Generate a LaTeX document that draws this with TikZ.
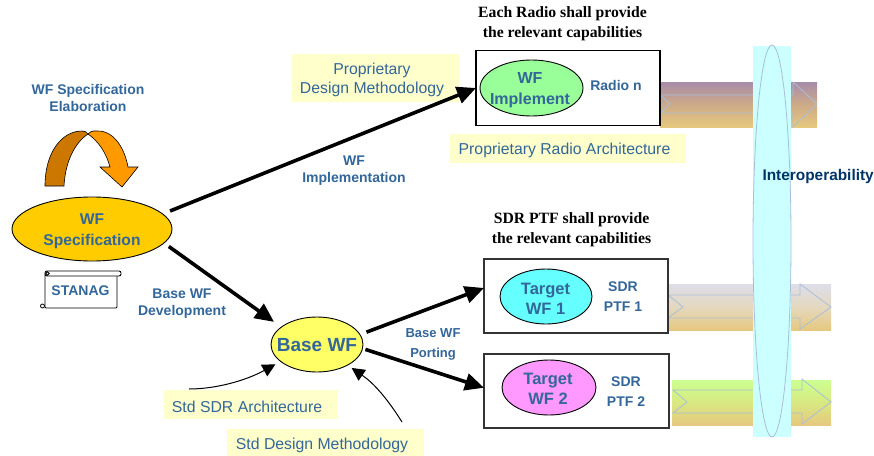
\documentclass[tikz,border=0pt]{standalone}
\usepackage{fontspec}
\setmainfont{Liberation Sans}
\newfontfamily\serifb{Liberation Serif}[Scale=1]
\usetikzlibrary{arrows.meta,shapes.geometric}
\definecolor{txtblue}{HTML}{336699}
\definecolor{darkblue}{HTML}{003366}
\definecolor{paleyellow}{HTML}{FFFFCC}
\definecolor{palecyan}{HTML}{CCFFFF}
\definecolor{tan}{HTML}{E6C87F}
\definecolor{arrowline}{HTML}{A9BFD9}
\newcommand\nudged[2]{\raisebox{-2pt}[\height][\depth]{#2}\hspace*{#1pt}}
\tikzset{
  every node/.style={inner sep=0pt,outer sep=0pt,align=center},
  lbl/.style 2 args={font=\fontsize{#1}{#2}\selectfont\bfseries,text=txtblue},
  note/.style={fill=paleyellow,font=\fontsize{15.8}{18.5}\selectfont,text=txtblue},
  head/.style={font=\fontsize{15.7}{20}\selectfont\serifb\bfseries,text=black},
  oval/.style={ellipse,draw=black,line width=0.9pt},
  ptfbox/.style={draw=black!80,line width=1.2pt,fill=white,rectangle},
  big/.style={line width=3.6pt,-{Triangle[length=19pt,width=17pt]}},
  thin/.style={line width=1pt,-{Triangle[length=13pt,width=13pt]}},
  flow/.style={draw=arrowline,line width=0.8pt},
}
\begin{document}
\begin{tikzpicture}[x=1pt,y=-1pt]
\useasboundingbox (0,0) rectangle (874,455);
\clip (0,0) rectangle (874,455);
% gradient bars
\shade[bottom color=tan,top color={rgb,255:red,168;green,140;blue,170},middle color={rgb,255:red,205;green,170;blue,135}] (660,82) rectangle (817,127);
\shade[bottom color=tan,top color={rgb,255:red,222;green,222;blue,234},middle color={rgb,255:red,228;green,216;blue,190}] (668,284) rectangle (831,330);
\shade[bottom color=tan,top color={rgb,255:red,204;green,255;blue,145},middle color={rgb,255:red,216;green,232;blue,130}] (672,380) rectangle (831,425);
% arrows on bars
\draw[flow] (660,95) -- (793,95) -- (793,82) -- (817,104) -- (793,127) -- (793,113) -- (660,113) -- (670,104) -- cycle;
\draw[flow] (668,295) -- (800,295) -- (800,284) -- (831,307) -- (800,329) -- (800,318) -- (668,318) -- (683,307) -- cycle;
\draw[flow] (673,390) -- (802,390) -- (802,379) -- (831,402) -- (802,424) -- (802,413) -- (673,413) -- (687,402) -- cycle;
% interoperability band
\fill[palecyan] (753,46) rectangle (791,437);
\draw[arrowline,line width=0.8pt] (772,241) ellipse [x radius=19,y radius=196];
\node[font=\fontsize{15.4}{16}\selectfont\bfseries,text=darkblue,anchor=west] (interop) at (762.5,177) {Interoperability};
% notes
\node[note,minimum width=167pt,minimum height=48pt] (propdm) at (375.5,78) {\nudged{7}{Proprietary}\\\nudged{7}{Design Methodology}};
\node[note,minimum width=236pt,minimum height=29pt] (propra) at (568,148.5) {\nudged{7}{Proprietary Radio Architecture}};
\node[note,minimum width=174pt,minimum height=29pt] (stdsdr) at (251,404.5) {\nudged{8}{Std SDR Architecture}};
\node[note,minimum width=197pt,minimum height=28pt] (stddm) at (325.5,443) {\nudged{7}{Std Design Methodology}};
% boxes
\node[ptfbox,draw=black,minimum width=184pt,minimum height=75pt] (radio) at (568,88) {};
\node[ptfbox,minimum width=184pt,minimum height=74pt] (ptf1) at (576,296) {};
\node[ptfbox,minimum width=185pt,minimum height=74pt] (ptf2) at (576.5,391) {};
% ovals
\node[oval,fill={rgb,255:red,153;green,255;blue,153},minimum width=103pt,minimum height=56pt] (impl) at (531.5,88) {};
\node[oval,fill={rgb,255:red,102;green,255;blue,255},minimum width=92pt,minimum height=55pt] (tw1) at (546,296.5) {};
\node[oval,fill={rgb,255:red,255;green,153;blue,255},minimum width=94pt,minimum height=55pt] (tw2) at (549,387.5) {};
\node[oval,fill={rgb,255:red,255;green,255;blue,102},minimum width=92pt,minimum height=55pt] (base) at (317,344.5) {};
\node[oval,fill={rgb,255:red,255;green,204;blue,0},minimum width=160pt,minimum height=64pt] (spec) at (92,229) {};
\node[lbl={16}{20.5}] (impltxt) at (530,90) {WF\\Implement};
\node[lbl={16.5}{19.5}] (tw1txt) at (545.5,299) {Target\\WF 1};
\node[lbl={16.5}{19.5}] (tw2txt) at (548,389) {Target\\WF 2};
\node[lbl={19}{20}] (basetxt) at (317,345) {Base WF};
\node[lbl={15.6}{21}] (spectxt) at (92,231) {WF\\Specification};
% box labels
\node[lbl={14}{17}] (rn) at (616,85) {Radio n};
\node[lbl={14}{20.5}] (p1) at (623,296.5) {SDR\\PTF 1};
\node[lbl={14}{20.5}] (p2) at (626,391.5) {SDR\\PTF 2};
% headings
\node[head] (h1) at (562.5,24) {Each Radio shall provide\\the relevant capabilities};
\node[head] (h2) at (571.5,230) {SDR PTF shall provide\\the relevant capabilities};
% labels
\node[lbl={14}{17}] (l1) at (88,98) {WF Specification\\Elaboration};
\node[lbl={14}{17.5}] (l2) at (354,170.5) {WF\\Implementation};
\node[lbl={14}{17}] (l3) at (182,304) {Base WF\\Development};
\node[lbl={13}{20}] (l4) at (433,344) {Base WF\\Porting};
% curved arrow
\filldraw[draw=black,line width=0.6pt,fill={rgb,255:red,204;green,119;blue,0}]
  (45,186) .. controls (45,152) and (62,131) .. (82,131) .. controls (85,131) and (87,132) .. (88,134)
  .. controls (73,144) and (65,165) .. (64,186) -- cycle;
\filldraw[draw=black,line width=0.6pt,fill={rgb,255:red,255;green,153;blue,0}]
  (88,134) .. controls (92,130) and (95,131) .. (98,131) .. controls (115,131) and (125,150) .. (128,167)
  -- (138,167) -- (122,187) -- (100,167) -- (110,167)
  .. controls (106,152) and (98,141) .. (88,134) -- cycle;
% STANAG scroll
\draw[black,line width=0.9pt,fill=white,rounded corners=1pt] (45,274) rectangle (117,308);
\draw[black,line width=0.9pt,fill=white,rounded corners=2pt] (45,271) rectangle (121,276);
\draw[black,line width=0.8pt,fill=white] (47.5,273.5) circle (1.7);
\draw[black,line width=0.8pt,fill=white] (42.5,306) circle (2);
\node[lbl={14}{16}] (stanag) at (80.5,291) {STANAG};
% connectors
\draw[big,shorten <=8pt] (spec.12) -- (radio.west);
\draw[big,shorten <=6pt,shorten >=9pt] (spec.-11) -- (base.154);
\draw[big,shorten <=7pt] (base.13) -- (ptf1.175.3);
\draw[big,shorten <=3pt] (base.-5) -- (ptf2.178.1);
\coordinate (c1) at (189,389);
\coordinate (c2) at (402,422);
\draw[thin,shorten >=6pt] (c1) .. controls (215,389) and (245,381) .. (base.-155);
\draw[thin,shorten >=5pt] (c2) .. controls (385,395) and (372,382) .. (base.-34);
\end{tikzpicture}
\end{document}
